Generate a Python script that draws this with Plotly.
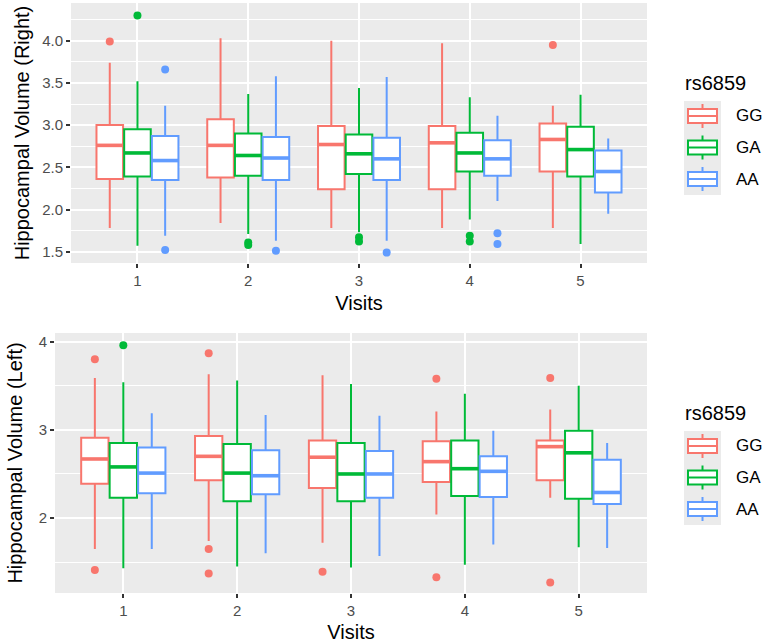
import plotly.graph_objects as go

# ---------------- data ----------------
visits = [1, 2, 3, 4, 5]
genotypes = ["GG", "GA", "AA"]
colors = {"GG": "#F8766D", "GA": "#00BA38", "AA": "#619CFF"}

# Right hippocampal volume (top panel): lower whisker, Q1, median, Q3, upper whisker
right_GG = dict(lo=[1.78, 1.84, 1.78, 1.78, 1.78], q1=[2.36, 2.38, 2.24, 2.24, 2.45],
                med=[2.76, 2.76, 2.77, 2.79, 2.83], q3=[3.00, 3.07, 2.99, 2.99, 3.02],
                hi=[3.74, 4.03, 4.00, 3.97, 3.23])
right_GA = dict(lo=[1.57, 1.71, 1.73, 1.88, 1.59], q1=[2.39, 2.40, 2.42, 2.45, 2.39],
                med=[2.67, 2.64, 2.66, 2.67, 2.71], q3=[2.95, 2.90, 2.89, 2.91, 2.98],
                hi=[3.52, 3.37, 3.44, 3.33, 3.36])
right_AA = dict(lo=[1.69, 1.63, 1.63, 2.10, 1.95], q1=[2.35, 2.35, 2.35, 2.40, 2.20],
                med=[2.58, 2.61, 2.60, 2.60, 2.45], q3=[2.87, 2.86, 2.85, 2.82, 2.70],
                hi=[3.23, 3.58, 3.57, 3.11, 2.84])
right_out_GG = [(1, 3.99), (5, 3.95)]
right_out_GA = [(1, 4.30), (2, 1.61), (2, 1.58), (3, 1.67), (3, 1.62), (4, 1.69), (4, 1.62)]
right_out_AA = [(1, 3.66), (1, 1.52), (2, 1.51), (3, 1.49), (4, 1.72), (4, 1.59)]

# Left hippocampal volume (bottom panel)
left_GG = dict(lo=[1.65, 1.74, 1.72, 2.04, 2.23], q1=[2.39, 2.43, 2.34, 2.41, 2.43],
               med=[2.67, 2.70, 2.69, 2.64, 2.81], q3=[2.91, 2.93, 2.88, 2.87, 2.88],
               hi=[3.59, 3.63, 3.62, 3.21, 3.23])
left_GA = dict(lo=[1.43, 1.45, 1.44, 1.47, 1.67], q1=[2.23, 2.19, 2.19, 2.25, 2.22],
               med=[2.58, 2.51, 2.50, 2.56, 2.74], q3=[2.85, 2.84, 2.85, 2.88, 2.99],
               hi=[3.54, 3.56, 3.52, 3.41, 3.50])
left_AA = dict(lo=[1.65, 1.60, 1.57, 1.70, 1.66], q1=[2.28, 2.27, 2.23, 2.24, 2.16],
               med=[2.51, 2.48, 2.50, 2.53, 2.29], q3=[2.80, 2.77, 2.76, 2.70, 2.66],
               hi=[3.19, 3.17, 3.16, 2.99, 2.85])
left_out_GG = [(1, 3.80), (1, 1.41), (2, 3.87), (2, 1.65), (2, 1.37), (3, 1.39),
               (4, 3.58), (4, 1.33), (5, 3.59), (5, 1.27)]
left_out_GA = [(1, 3.96)]
left_out_AA = []

x_tick_labels = ["1", "2", "3", "4", "5"]
right_y_ticks = [1.5, 2.0, 2.5, 3.0, 3.5, 4.0]
left_y_ticks = [2, 3, 4]

# ---------------- layout constants ----------------
W, H = 767, 643
FONT = "Liberation Sans, Arial, sans-serif"
dodge = {"GG": -0.25, "GA": 0.0, "AA": 0.25}
box_w = 0.24


def px_x(p):
    return p / W


def px_y(p):
    return 1 - p / H


fig = go.Figure()


def add_panel(stats, outliers, xa, ya):
    for g in genotypes:
        s = stats[g]
        xs = [v + dodge[g] for v in visits]
        fig.add_trace(go.Box(
            x=xs, q1=s["q1"], median=s["med"], q3=s["q3"],
            lowerfence=s["lo"], upperfence=s["hi"],
            width=box_w, whiskerwidth=0, fillcolor="white",
            line=dict(color=colors[g], width=2), boxpoints=False,
            xaxis=xa, yaxis=ya, showlegend=False, name=g, hoverinfo="skip"))
        # thicker median line (ggplot fatten)
        mx, my = [], []
        for x, m in zip(xs, s["med"]):
            mx += [x - box_w / 2, x + box_w / 2, None]
            my += [m, m, None]
        fig.add_trace(go.Scatter(x=mx, y=my, mode="lines",
                                 line=dict(color=colors[g], width=3.6),
                                 xaxis=xa, yaxis=ya, showlegend=False, hoverinfo="skip"))
        outs = outliers[g]
        if outs:
            fig.add_trace(go.Scatter(
                x=[v + dodge[g] for v, _ in outs], y=[y for _, y in outs],
                mode="markers", marker=dict(color=colors[g], size=8),
                xaxis=xa, yaxis=ya, showlegend=False, hoverinfo="skip"))


add_panel({"GG": right_GG, "GA": right_GA, "AA": right_AA},
          {"GG": right_out_GG, "GA": right_out_GA, "AA": right_out_AA}, "x", "y")
add_panel({"GG": left_GG, "GA": left_GA, "AA": left_AA},
          {"GG": left_out_GG, "GA": left_out_GA, "AA": left_out_AA}, "x2", "y2")

tickfont = dict(family=FONT, size=15, color="#4D4D4D")
titlefont = dict(family=FONT, size=20, color="black")

xcommon = dict(range=[0.4, 5.6], tickvals=visits, ticktext=x_tick_labels,
               showgrid=True, gridcolor="white", gridwidth=1.6, zeroline=False,
               ticks="outside", ticklen=4, tickwidth=1.5, tickcolor="#333333",
               tickfont=tickfont, showline=False,
               title=dict(text="Visits", font=titlefont, standoff=7))

fig.update_layout(
    width=W, height=H, margin=dict(l=0, r=0, t=0, b=0),
    paper_bgcolor="white", plot_bgcolor="#EBEBEB",
    boxmode="overlay", showlegend=False,
    font=dict(family=FONT),
    xaxis=dict(domain=[px_x(71), px_x(647)], anchor="y", **xcommon),
    xaxis2=dict(domain=[px_x(55), px_x(647)], anchor="y2", **xcommon),
    yaxis=dict(domain=[px_y(263), px_y(3)], anchor="x", range=[1.366, 4.447],
               tickvals=right_y_ticks, tickformat=".1f",
               showgrid=True, gridcolor="white", gridwidth=1.6, zeroline=False,
               ticks="outside", ticklen=4, tickwidth=1.5, tickcolor="#333333",
               tickfont=tickfont,
               minor=dict(dtick=0.25, tick0=0, showgrid=True, gridcolor="white", gridwidth=0.8),
               title=dict(text="Hippocampal Volume (Right)", font=titlefont, standoff=7)),
    yaxis2=dict(domain=[px_y(593), px_y(333)], anchor="x2", range=[1.150, 4.099],
                tickvals=left_y_ticks,
                showgrid=True, gridcolor="white", gridwidth=1.6, zeroline=False,
                ticks="outside", ticklen=4, tickwidth=1.5, tickcolor="#333333",
                tickfont=tickfont,
                minor=dict(dtick=0.5, tick0=0, showgrid=True, gridcolor="white", gridwidth=0.8),
                title=dict(text="Hippocampal Volume (Left)", font=titlefont, standoff=10)),
)

# ---------------- manual ggplot-style legends ----------------
shapes, annots = [], []


def add_legend(offset):
    title_y = 82.5 + offset
    annots.append(dict(x=px_x(683), y=px_y(title_y), xref="paper", yref="paper",
                       xanchor="left", yanchor="middle", showarrow=False,
                       text="rs6859", font=dict(family=FONT, size=20, color="black")))
    shapes.append(dict(type="rect", xref="paper", yref="paper",
                       x0=px_x(684), x1=px_x(721), y0=px_y(101 + offset), y1=px_y(195 + offset),
                       fillcolor="#EBEBEB", line=dict(width=0), layer="above"))
    for i, g in enumerate(genotypes):
        c = 116 + offset + i * 31.5
        col = colors[g]
        shapes.append(dict(type="line", xref="paper", yref="paper",
                           x0=px_x(702.5), x1=px_x(702.5), y0=px_y(c - 12), y1=px_y(c + 12),
                           line=dict(color=col, width=2), layer="above"))
        shapes.append(dict(type="rect", xref="paper", yref="paper",
                           x0=px_x(688), x1=px_x(717), y0=px_y(c - 7), y1=px_y(c + 7),
                           fillcolor="white", line=dict(color=col, width=2), layer="above"))
        shapes.append(dict(type="line", xref="paper", yref="paper",
                           x0=px_x(688), x1=px_x(717), y0=px_y(c), y1=px_y(c),
                           line=dict(color=col, width=2), layer="above"))
        annots.append(dict(x=px_x(734), y=px_y(c), xref="paper", yref="paper",
                           xanchor="left", yanchor="middle", showarrow=False,
                           text=g, font=dict(family=FONT, size=17, color="black")))


add_legend(0)
add_legend(330)
fig.update_layout(shapes=shapes, annotations=annots)

fig.write_html("out.html")
